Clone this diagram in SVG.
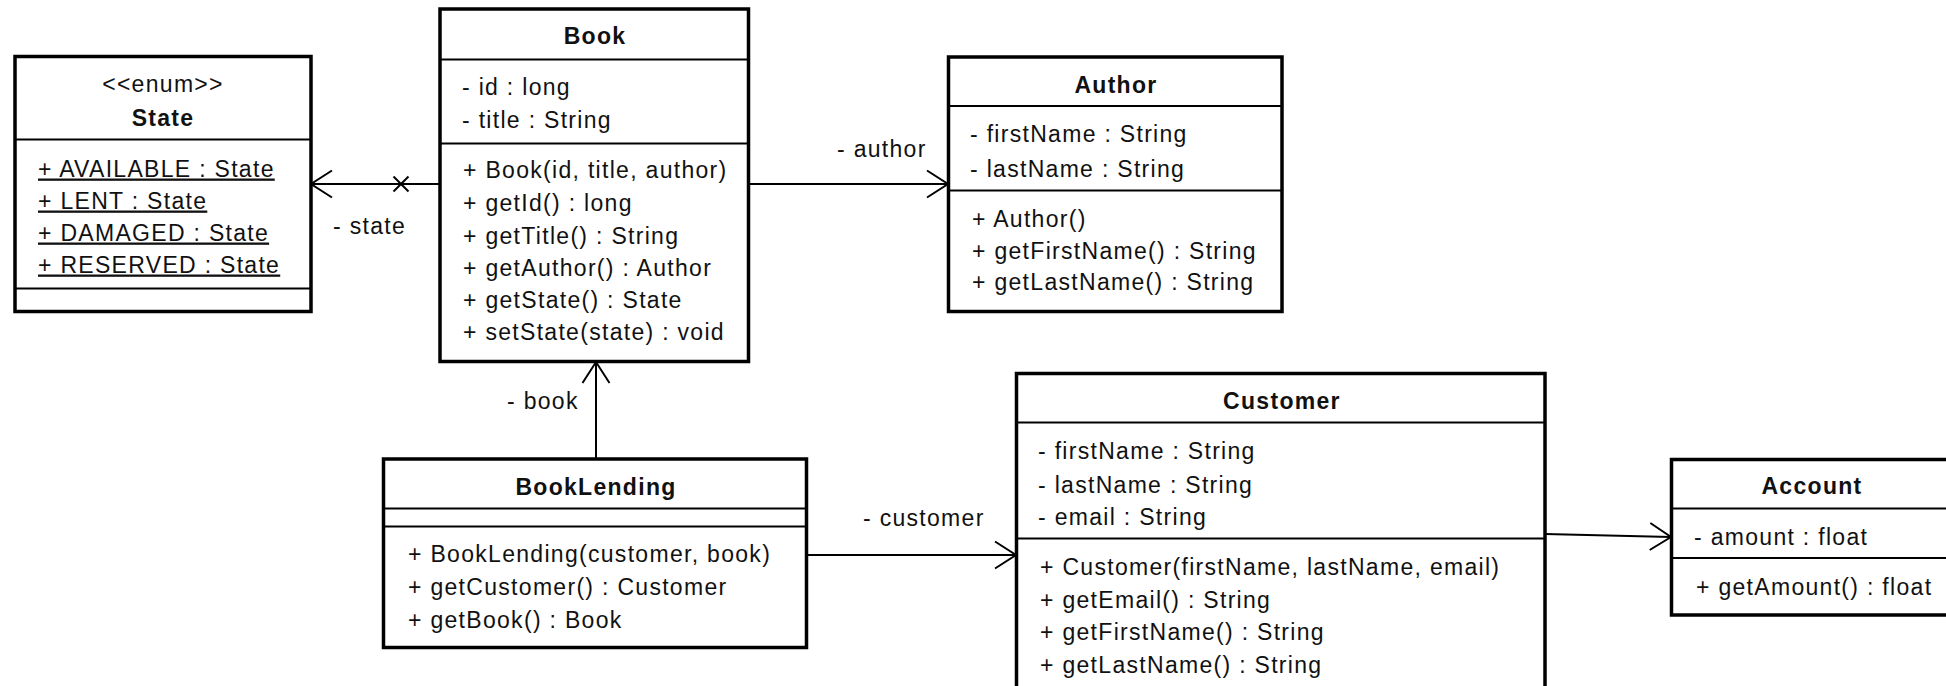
<svg xmlns="http://www.w3.org/2000/svg" width="1946" height="686" viewBox="0 0 1946 686">
<style>
  text { font-family: "Liberation Sans", Arial, sans-serif; font-size: 23px; letter-spacing: 1.3px; fill: #111; }
  .title { font-weight: bold; text-anchor: middle; letter-spacing: 1.3px; }
  .center { text-anchor: middle; }
  .box { fill: #fff; stroke: #000; stroke-width: 3.5; }
  .div { stroke: #000; stroke-width: 2; }
  .edge { fill: none; stroke: #000; stroke-width: 2; }
  .ul { text-decoration: underline; }
</style>
<defs>
  <marker id="open" markerUnits="userSpaceOnUse" viewBox="-25 -16 28 32" markerWidth="28" markerHeight="32" refX="0" refY="0" orient="auto">
    <path d="M -21 -13.5 L 0 0 L -21 13.5" fill="none" stroke="#000" stroke-width="2"/>
  </marker>
</defs>
<rect width="1946" height="686" fill="#fff"/>

<g id="connectors">
  <line class="edge" x1="440" y1="184" x2="311" y2="184" marker-end="url(#open)"/>
  <line class="edge" x1="393.5" y1="176.5" x2="408.5" y2="191.5"/>
  <line class="edge" x1="393.5" y1="191.5" x2="408.5" y2="176.5"/>
  <text x="333" y="234">- state</text>
  <line class="edge" x1="748" y1="184" x2="948" y2="184" marker-end="url(#open)"/>
  <text x="837" y="157">- author</text>
  <line class="edge" x1="596" y1="459" x2="596" y2="362" marker-end="url(#open)"/>
  <text x="507" y="409">- book</text>
  <line class="edge" x1="807" y1="555" x2="1016" y2="555" marker-end="url(#open)"/>
  <text x="863" y="526">- customer</text>
  <line class="edge" x1="1545" y1="534" x2="1671" y2="537" marker-end="url(#open)"/>
</g>

<g id="State">
  <rect class="box" x="15" y="56.5" width="296" height="255"/>
  <line class="div" x1="15" y1="139.5" x2="311" y2="139.5"/>
  <line class="div" x1="15" y1="288.5" x2="311" y2="288.5"/>
  <text class="center" x="163" y="91.5">&lt;&lt;enum&gt;&gt;</text>
  <text class="title" x="163" y="126">State</text>
  <text class="ul" x="38" y="176.5">+ AVAILABLE : State</text>
  <text class="ul" x="38" y="208.5">+ LENT : State</text>
  <text class="ul" x="38" y="240.5">+ DAMAGED : State</text>
  <text class="ul" x="38" y="272.5">+ RESERVED : State</text>
</g>

<g id="Book">
  <rect class="box" x="440" y="9" width="308.5" height="352.5"/>
  <line class="div" x1="440" y1="59.5" x2="748.5" y2="59.5"/>
  <line class="div" x1="440" y1="143.5" x2="748.5" y2="143.5"/>
  <text class="title" x="595" y="44">Book</text>
  <text x="462" y="95">- id : long</text>
  <text x="462" y="128">- title : String</text>
  <text x="463" y="178">+ Book(id, title, author)</text>
  <text x="463" y="211">+ getId() : long</text>
  <text x="463" y="243.5">+ getTitle() : String</text>
  <text x="463" y="275.5">+ getAuthor() : Author</text>
  <text x="463" y="308">+ getState() : State</text>
  <text x="463" y="340">+ setState(state) : void</text>
</g>

<g id="Author">
  <rect class="box" x="948.5" y="57" width="333.5" height="254.5"/>
  <line class="div" x1="948.5" y1="106" x2="1282" y2="106"/>
  <line class="div" x1="948.5" y1="190.5" x2="1282" y2="190.5"/>
  <text class="title" x="1116" y="92.5">Author</text>
  <text x="970" y="141.5">- firstName : String</text>
  <text x="970" y="176.5">- lastName : String</text>
  <text x="972" y="226.5">+ Author()</text>
  <text x="972" y="258.5">+ getFirstName() : String</text>
  <text x="972" y="290">+ getLastName() : String</text>
</g>

<g id="BookLending">
  <rect class="box" x="383.5" y="459" width="423" height="188.5"/>
  <line class="div" x1="383.5" y1="508.5" x2="806.5" y2="508.5"/>
  <line class="div" x1="383.5" y1="526.5" x2="806.5" y2="526.5"/>
  <text class="title" x="596" y="495">BookLending</text>
  <text x="408" y="562">+ BookLending(customer, book)</text>
  <text x="408" y="595">+ getCustomer() : Customer</text>
  <text x="408" y="627.5">+ getBook() : Book</text>
</g>

<g id="Customer">
  <rect class="box" x="1016.5" y="373.5" width="528.5" height="330"/>
  <line class="div" x1="1016.5" y1="422.5" x2="1545" y2="422.5"/>
  <line class="div" x1="1016.5" y1="538.5" x2="1545" y2="538.5"/>
  <text class="title" x="1282" y="409">Customer</text>
  <text x="1038" y="459">- firstName : String</text>
  <text x="1038" y="493">- lastName : String</text>
  <text x="1038" y="525">- email : String</text>
  <text x="1040" y="575">+ Customer(firstName, lastName, email)</text>
  <text x="1040" y="607.5">+ getEmail() : String</text>
  <text x="1040" y="639.5">+ getFirstName() : String</text>
  <text x="1040" y="673">+ getLastName() : String</text>
</g>

<g id="Account">
  <rect class="box" x="1671.5" y="459.5" width="282" height="155.5"/>
  <line class="div" x1="1671.5" y1="508.5" x2="1953" y2="508.5"/>
  <line class="div" x1="1671.5" y1="558" x2="1953" y2="558"/>
  <text class="title" x="1812" y="494">Account</text>
  <text x="1694" y="545">- amount : float</text>
  <text x="1696" y="595">+ getAmount() : float</text>
</g>
</svg>
